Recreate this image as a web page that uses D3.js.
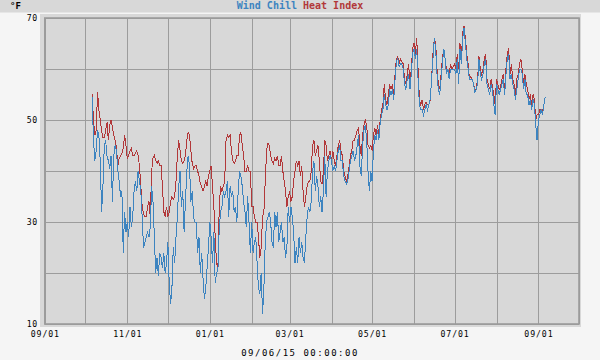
<!DOCTYPE html>
<html>
<head>
<meta charset="utf-8">
<script src="https://cdn.jsdelivr.net/npm/d3@7"></script>
<style>
  html, body { margin: 0; padding: 0; background: #f5f5f5; }
  svg { display: block; }
  text { font-family: "DejaVu Sans Mono", monospace; }
</style>
</head>
<body>
<script>
// --- data: daily averages, first value is 2014-10-06 ---
const firstDay = Date.UTC(2014, 9, 6);

const heatIndex = [
  55, 50, 47, 48, 55.5, 52, 50, 48, 46.5, 46.5, 48, 49.5, 46, 49, 50, 48.5, 47, 46, 44.5, 41, 42.5, 43, 43.5, 44.5, 47, 45, // oct
  42.5, 43, 44, 44.5, 43, 43, 43.5, 44, 43, 41, 37, 33, 31.5, 31, 31, 33, 34, 31, 40, 42.5, 43, 42, 41.5, 42, 41, 41, 37, 32, 31, 33, // nov
  31, 32, 34, 35, 34.5, 35, 38, 43, 46, 44, 42, 41.5, 42, 43, 46, 47.5, 47, 44, 41.5, 40.5, 41, 41, 40, 39, 37.5, 37, 36, 37, 38, 37, 39, // dec
  40, 41, 37, 33, 27, 22, 21, 33, 37, 36, 37, 38, 46, 47, 46.5, 47, 44, 42, 41.5, 42, 43, 43, 47, 47.5, 45, 43, 40, 40, 41, 40, 40, // jan
  33, 33, 31, 30, 30, 27, 23, 25, 31, 32, 38, 44, 45.5, 45, 43, 42, 41.5, 42.5, 42, 43, 41, 41, 43, 40, 38, 36, 33, 35, // feb
  36, 34, 35, 38, 40, 42, 41, 42, 39, 41, 36, 33, 35, 37, 38, 38, 40, 45, 46, 43, 44, 45, 42, 38, 37.5, 40, 46, 45, 42, 43, 44, // mar
  42, 44, 42, 41, 43, 45, 46, 44, 43, 40, 39, 38, 39, 41, 43, 44, 46, 46, 47, 48, 48.5, 45, 43, 47, 49, 50, 49, 45, 44.5, 45, // apr
  44, 47, 48.5, 47, 49, 47, 50, 52, 53, 57, 54, 53, 55, 57, 56, 57, 55, 59, 62, 62.5, 61, 62, 61.5, 61, 58, 57, 59, 61, 57, 60, 64, // may
  65, 63, 66, 60, 54, 53, 54, 52, 53, 53.5, 53, 53, 54, 58, 63, 66, 65, 60, 57, 56, 59, 62, 64, 62, 60, 60, 59, 61, 60, 60.5, // jun
  61, 60, 63, 60, 65, 62, 67, 68.5, 66, 63, 61, 58, 58.5, 58, 57, 56, 56, 58, 62.5, 60, 59, 60, 62, 63, 58, 57, 56, 58, 56.5, 55, 53, // jul
  58, 57, 56, 56.5, 58, 59, 56, 60, 63, 64, 59, 61, 58, 57, 55, 58, 59, 61, 62, 60, 57, 59, 57, 56, 54, 55, 53, 55, 54, 50, 51, // aug
  51, 52, 52, 51.5, 53, 54.5 // sep
];

const windChill = [
  54.5, 46, 42, 44, 48, 47, 42, 32, 37, 45, 46, 43, 42, 40.5, 43, 34, 43, 45, 44, 40, 38, 35, 36, 24, 32, 28, // oct
  30, 27, 33, 29, 31, 36, 38, 36, 40, 38, 36, 31, 25, 26, 27, 28, 27, 29, 37, 34, 27, 20, 23, 19.5, 24, 23, 21, 24, 20, 22, // nov
  26, 18, 14, 17, 25, 22, 27, 31, 37, 40, 33, 36, 28, 34, 40, 43, 41, 34, 36, 31, 30, 30, 24, 27, 20, 24, 19, 15, 17, 21, 25, // dec
  30, 27, 22, 28, 18, 20, 20.5, 29, 32, 33, 36, 35, 36, 38, 31, 37, 35, 36, 32, 33, 30, 36, 40, 39, 37, 34, 32, 29, 35, 30, 24, // jan
  30, 24, 26, 27, 22, 17, 16, 20, 12, 17, 26, 30, 31, 32, 30, 26, 25, 32, 29, 32, 26, 28, 30, 26, 27, 23, 25, 33, // feb
  30, 33, 31, 28, 22, 25, 22, 27, 24, 26, 23, 22, 27, 31, 33, 32, 34, 40, 42, 36, 39, 37, 33, 35, 32, 36, 43, 35, 40, 42, 43, // mar
  42, 40, 41, 40, 42, 44, 45, 42, 42, 39, 38, 37.5, 38, 40, 42, 43, 44, 42, 43, 45, 47, 41, 39, 45, 48, 49, 46, 40, 36, 40, // apr
  38, 44, 47, 46, 48, 46, 49.5, 51, 52, 55, 53, 52, 53, 56, 55, 56, 54, 58, 61.5, 62, 60.5, 61, 61, 60, 57, 56, 58, 59, 56, 59, 63, // may
  64, 62, 64, 58, 53, 52, 52, 51, 52, 53, 52, 53, 54, 58, 62, 66, 64, 59, 56, 55, 58, 61, 64, 62, 59, 60, 58, 60, 60, 60, // jun
  60, 59, 62, 57, 64, 61, 66, 68, 65, 62, 60, 58, 58, 58, 57, 55.5, 56, 57, 62, 59, 58, 59, 61, 62, 57, 56, 55, 57, 56, 53, 51, // jul
  57, 56, 55, 56, 57, 58, 55, 59, 62, 63, 58, 59, 57, 56, 54, 56, 58, 60, 60, 59, 56, 58, 55, 55, 53, 54, 52, 54, 53, 49, 46, // aug
  50, 51, 52, 51, 53, 54.5 // sep
];

const yTicks = [10, 20, 30, 40, 50, 60, 70];
const yLabels = [10, 30, 50, 70];
const unitLabel = "°F";
const titleParts = [["Wind Chill", "#3d84c0"], ["Heat Index", "#b2383a"]];
const footer = "09/06/15 00:00:00";

// --- layout ---
const W = 600, H = 360;
const plot = { left: 44.8, right: 579, top: 18, bottom: 324 };

const svg = d3.select("body").append("svg")
  .attr("width", W)
  .attr("height", H);

// top band
svg.append("rect").attr("x", 0).attr("y", 0).attr("width", W).attr("height", 12.5).attr("fill", "#d8d8d8");

// panel behind the plot
svg.append("rect")
  .attr("x", 40).attr("y", 14)
  .attr("width", 541).attr("height", 313)
  .attr("fill", "#d8d8d8");

const x = d3.scaleUtc()
  .domain([new Date(Date.UTC(2014, 8, 1)), new Date(Date.UTC(2015, 9, 1))])
  .range([plot.left, plot.right]);

const y = d3.scaleLinear()
  .domain([10, 70])
  .range([plot.bottom, plot.top]);

const months = d3.utcMonth.range(new Date(Date.UTC(2014, 8, 1)), new Date(Date.UTC(2015, 9, 2)));
const fmt = d3.utcFormat("%m/%d");

// vertical grid + labels
const xAxis = d3.axisBottom(x)
  .tickValues(months)
  .tickSize(-(plot.bottom - plot.top))
  .tickPadding(6)
  .tickFormat(d => (d.getUTCMonth() % 2 === 0 && d < new Date(Date.UTC(2015, 9, 1))) ? fmt(d) : "");

const gx = svg.append("g")
  .attr("transform", `translate(0,${plot.bottom})`)
  .call(xAxis);
gx.select(".domain").remove();
gx.selectAll("line").attr("stroke", "#9c9c9c").attr("stroke-width", 1).attr("shape-rendering", "crispEdges");
gx.selectAll("text")
  .attr("fill", "#000")
  .attr("font-size", 8.2)
  .attr("letter-spacing", 0.9)
  .attr("dy", null)
  .attr("y", 13);

// horizontal grid + labels
const yAxis = d3.axisLeft(y)
  .tickValues(yTicks)
  .tickSize(-(plot.right - plot.left))
  .tickPadding(8)
  .tickFormat(d => yLabels.includes(d) ? d : "");

const gy = svg.append("g")
  .attr("transform", `translate(${plot.left},0)`)
  .call(yAxis);
gy.select(".domain").remove();
gy.selectAll("line").attr("stroke", "#9c9c9c").attr("stroke-width", 1).attr("shape-rendering", "crispEdges");
gy.selectAll("text")
  .attr("fill", "#000")
  .attr("font-size", 8.2)
  .attr("letter-spacing", 0.6)
  .attr("x", -7)
  .attr("dy", "0.36em");

// frame
svg.append("rect")
  .attr("x", plot.left).attr("y", plot.top)
  .attr("width", plot.right - plot.left)
  .attr("height", plot.bottom - plot.top)
  .attr("fill", "none")
  .attr("stroke", "#9c9c9c")
  .attr("stroke-width", 1.6);

// series
const day = i => new Date(firstDay + i * 864e5);
const line = d3.line()
  .x((d, i) => x(day(i)))
  .y(d => y(d));

svg.append("path")
  .datum(heatIndex)
  .attr("d", line)
  .attr("fill", "none")
  .attr("stroke", "#b2383a")
  .attr("stroke-width", 1)
  .attr("shape-rendering", "crispEdges");

svg.append("path")
  .datum(windChill)
  .attr("d", line)
  .attr("fill", "none")
  .attr("stroke", "#3d84c0")
  .attr("stroke-width", 1)
  .attr("shape-rendering", "crispEdges");

// title
const title = svg.append("text")
  .attr("x", 300).attr("y", 8.5)
  .attr("text-anchor", "middle")
  .attr("font-family", "Liberation Mono, monospace")
  .attr("font-weight", "bold")
  .attr("font-size", 10);
titleParts.forEach(([t, c], i) => {
  title.append("tspan").attr("fill", c).text((i ? " " : "") + t);
});

svg.append("text")
  .attr("x", 10).attr("y", 8.5)
  .attr("font-family", "Liberation Mono, monospace")
  .attr("font-weight", "bold")
  .attr("font-size", 9)
  .attr("fill", "#000")
  .text(unitLabel);

// footer timestamp
svg.append("text")
  .attr("x", 300).attr("y", 356)
  .attr("text-anchor", "middle")
  .attr("font-size", 9)
  .attr("letter-spacing", 1.5)
  .attr("fill", "#000")
  .text(footer);
</script>
</body>
</html>
